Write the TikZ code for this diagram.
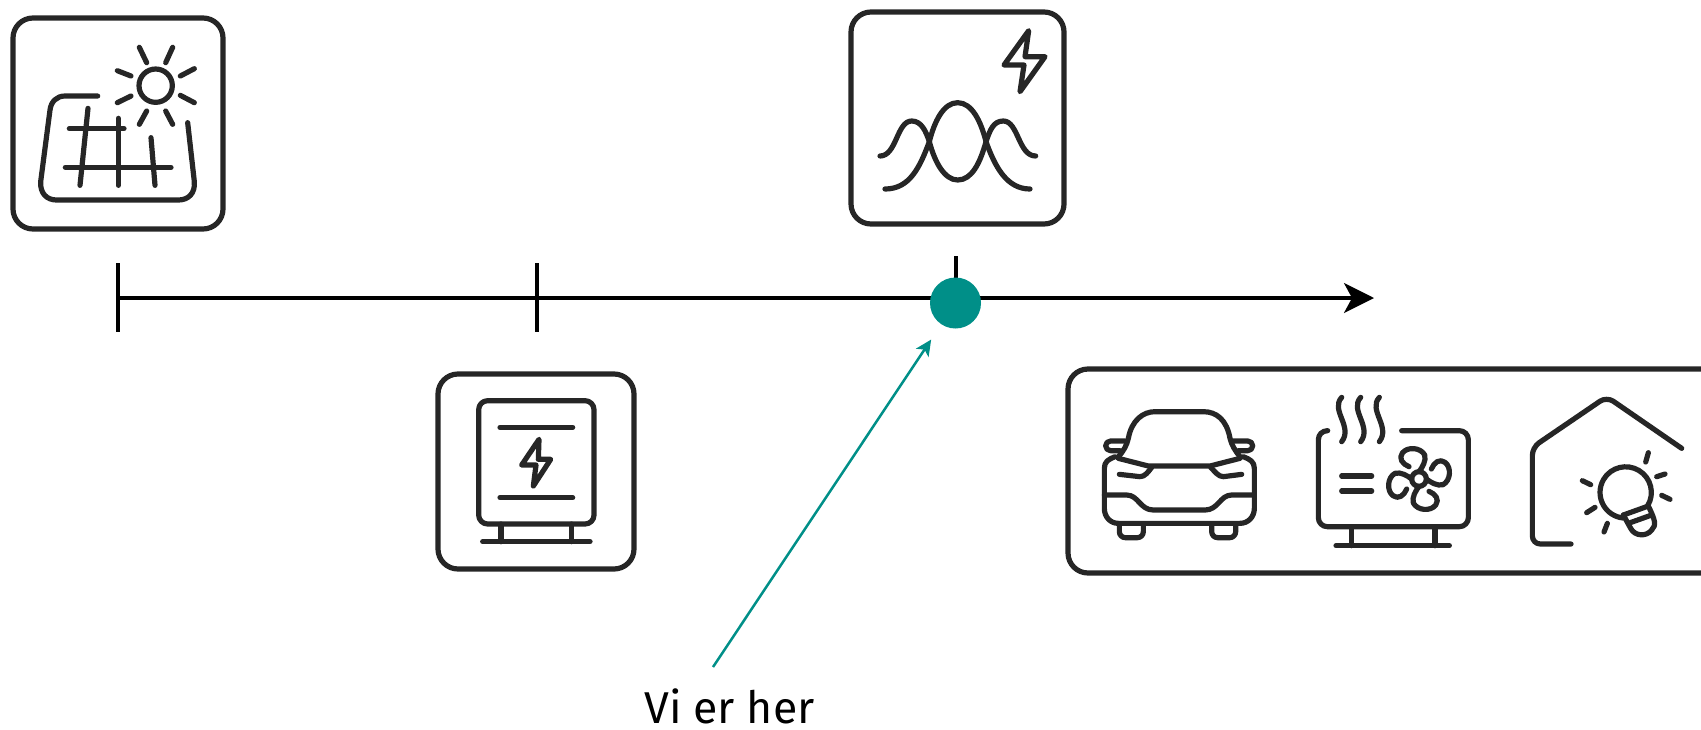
\documentclass[tikz,border=0pt]{standalone}
\usepackage{fontspec}
\setmainfont{Fira Sans}
\usetikzlibrary{arrows, positioning, calc, arrows.meta}
\definecolor{icongray}{HTML}{262626}
\definecolor{hereteal}{HTML}{008F88}

\begin{document}
\begin{tikzpicture}[
      x=0.5pt, y=-0.5pt,
      iconbox/.style = {
        draw=icongray,
        line width=2.6pt,
        rounded corners=10pt,
        inner sep=0pt
      },
      axisline/.style = {line width=1.7pt, black},
      pointer/.style = {
        draw=hereteal,
        line width=1.25pt,
        shorten >=9pt,
        -{Stealth[length=8pt,width=7.5pt,inset=2pt]}
      },
      iconline/.style = {
        draw=icongray,
        line width=2.6pt,
        line cap=round,
        line join=round
      },
      zoomed/.style = {x=0.16667pt, y=-0.16667pt}
    ]

    \clip (0,0) rectangle (1701,729);

    \node[iconbox, minimum width=105pt, minimum height=105.5pt] (solarbox)   at (118,123.5) {};
    \node[iconbox, minimum width=106.5pt, minimum height=106pt] (curvebox)   at (957.5,118) {};
    \node[iconbox, minimum width=98pt, minimum height=97.5pt]   (stationbox) at (536,471.5) {};
    \node[iconbox, minimum width=340pt, minimum height=102pt]   (loadbox)    at (1408,471) {};

    \coordinate (axisstart) at (118,298);
    \coordinate (axisend)   at (1374,298);
    \coordinate (tickatop)  at (118,263);
    \coordinate (tickabot)  at (118,332);
    \coordinate (tickbtop)  at (537,263);
    \coordinate (tickbbot)  at (537,332);
    \coordinate (tickctop)  at (956,256);
    \coordinate (tickcbot)  at (956,298);

    \draw[axisline] (tickatop) -- (tickabot);
    \draw[axisline] (tickbtop) -- (tickbbot);
    \draw[axisline] (tickctop) -- (tickcbot);
    \draw[axisline, -{Stealth[length=15pt,width=15pt,inset=4pt]}] (axisstart) -- (axisend);

    \node[circle, fill=hereteal, minimum size=25.5pt, inner sep=0pt] (nowdot) at (955.5,303) {};
    \node[font=\fontsize{22.3}{23}\selectfont, inner sep=0pt] (herelabel) at (729.5,706) {Vi er her};
    \coordinate (pointerstart) at (713,667);
    \draw[pointer] (pointerstart) -- (nowdot);

    % solar panel
    \begin{scope}[zoomed, iconline]
      \draw (467,257) circle [radius=50];
      \draw (418,142) -- (440,188);
      \draw (518,142) -- (497,188);
      \draw (352,212) -- (393,228);
      \draw (583,206) -- (541,228);
      \draw (352,308) -- (393,288);
      \draw (583,308) -- (541,286);
      \draw (418,373) -- (440,333);
      \draw (518,373) -- (497,333);
      \draw (293,288) -- (195,288) .. controls (170,288) and (153,305) .. (150,330)
        -- (122,545) .. controls (120,580) and (140,600) .. (170,600)
        -- (535,600) .. controls (565,600) and (586,580) .. (583,545) -- (563,368);
      \draw (208,386) -- (372,386);
      \draw (196,502) -- (513,502);
      \draw (264,325) -- (240,556);
      \draw (355,355) -- (355,556);
      \draw (453,413) -- (465,556);
    \end{scope}

    % bell curves with bolt
    \begin{scope}[shift={(840,0)}, zoomed, iconline]
      \draw (566,92) -- (492,195) -- (552,195) -- (540,275) -- (615,170) -- (555,170) -- cycle;
      \draw (135,567) .. controls (210,567) and (240,500) .. (268,425)
        .. controls (283,365) and (310,308) .. (353,308)
        .. controls (396,308) and (423,365) .. (438,425)
        .. controls (465,500) and (500,567) .. (570,567);
      \draw (120,468) .. controls (170,468) and (170,363) .. (215,363)
        .. controls (245,363) and (258,395) .. (268,425)
        .. controls (285,490) and (315,540) .. (353,540)
        .. controls (395,540) and (420,490) .. (438,425)
        .. controls (450,390) and (460,363) .. (490,363)
        .. controls (535,363) and (535,468) .. (587,468);
    \end{scope}

    % transformer station
    \begin{scope}[shift={(430,360)}, zoomed, iconline]
      \draw[rounded corners=4.5pt] (146,122) rectangle (492,492);
      \draw (210,202) -- (428,202);
      \draw (210,413) -- (428,413);
      \draw (327,238) -- (275,315) -- (318,315) -- (310,378) -- (362,298) -- (325,298) -- cycle;
      \draw (213,492) -- (213,545);
      \draw (425,492) -- (425,545);
      \draw (158,545) -- (480,545);
    \end{scope}

    % car
    \begin{scope}[shift={(1060,360)}, zoomed, iconline]
      \draw (175,290) .. controls (192,272) and (200,255) .. (205,235)
        .. controls (215,180) and (250,155) .. (285,155)
        -- (430,155) .. controls (470,155) and (500,180) .. (510,235)
        .. controls (515,255) and (525,272) .. (540,290);
      \draw[rounded corners=2.4pt] (195,243) -- (137,243) -- (137,272) -- (180,272);
      \draw[rounded corners=2.4pt] (520,243) -- (578,243) -- (578,272) -- (535,272);
      \draw (165,290) .. controls (145,298) and (133,305) .. (133,325)
        -- (133,445) .. controls (133,470) and (150,490) .. (175,490)
        -- (540,490) .. controls (565,490) and (583,470) .. (583,445)
        -- (583,325) .. controls (583,305) and (570,298) .. (550,290);
      \draw (175,295) -- (265,318) -- (450,318) -- (540,295);
      \draw (178,343) -- (240,350) .. controls (255,350) and (265,335) .. (275,322);
      \draw (545,343) -- (490,350) .. controls (475,350) and (465,335) .. (452,322);
      \draw (133,405) -- (200,405) .. controls (235,405) and (240,450) .. (280,450)
        -- (435,450) .. controls (475,450) and (480,405) .. (515,405) -- (583,405);
      \draw[rounded corners=3pt] (178,495) -- (178,533) -- (250,533) -- (250,495);
      \draw[rounded corners=3pt] (455,495) -- (455,533) -- (527,533) -- (527,495);
    \end{scope}

    % heat pump
    \begin{scope}[shift={(1060,360)}, zoomed, iconline]
      \draw[rounded corners=4.5pt] (803,212) -- (775,212) -- (775,500) -- (1225,500) -- (1225,212) -- (1025,212);
      \draw (875,500) -- (875,557);
      \draw (1125,500) -- (1125,557);
      \draw (828,557) -- (1168,557);
      \draw (845,348) -- (935,348);
      \draw (845,393) -- (935,393);
      \foreach \wavex in {845,902,958} {
        \draw (\wavex,112) .. controls (\wavex-35,150) and (\wavex+35,200) .. (\wavex,245);
      }
      \draw (1077,357) circle [radius=22];
      \foreach \bladeangle in {0,90,180,270} {
        \begin{scope}[shift={(1077,357)}, rotate=\bladeangle]
          \draw (-30,-37) .. controls (-50,-45) and (-62,-62) .. (-50,-78)
            .. controls (-35,-98) and (5,-95) .. (17,-72)
            .. controls (22,-55) and (10,-35) .. (0,-22);
        \end{scope}
      }
    \end{scope}

    % house with bulb
    \begin{scope}[shift={(1380,360)}, zoomed, iconline]
      \draw[rounded corners=4pt] (905,265) -- (680,110) -- (457,262) -- (457,552) -- (573,552);
      \draw (805,278) -- (797,306);
      \draw (855,342) -- (830,350);
      \draw (870,418) -- (845,406);
      \draw (607,362) -- (632,374);
      \draw (645,442) -- (620,458);
      \draw (682,490) -- (672,516);
      \draw (803,437) arc [start angle=31, end angle=-264, radius=77];
      \draw (730,465) -- (805,438);
      \draw (745,490) -- (815,465);
      \draw (730,465) -- (752,505) .. controls (765,530) and (800,530) .. (815,510)
        .. controls (830,495) and (825,480) .. (805,438);
    \end{scope}

  \end{tikzpicture}
\end{document}
